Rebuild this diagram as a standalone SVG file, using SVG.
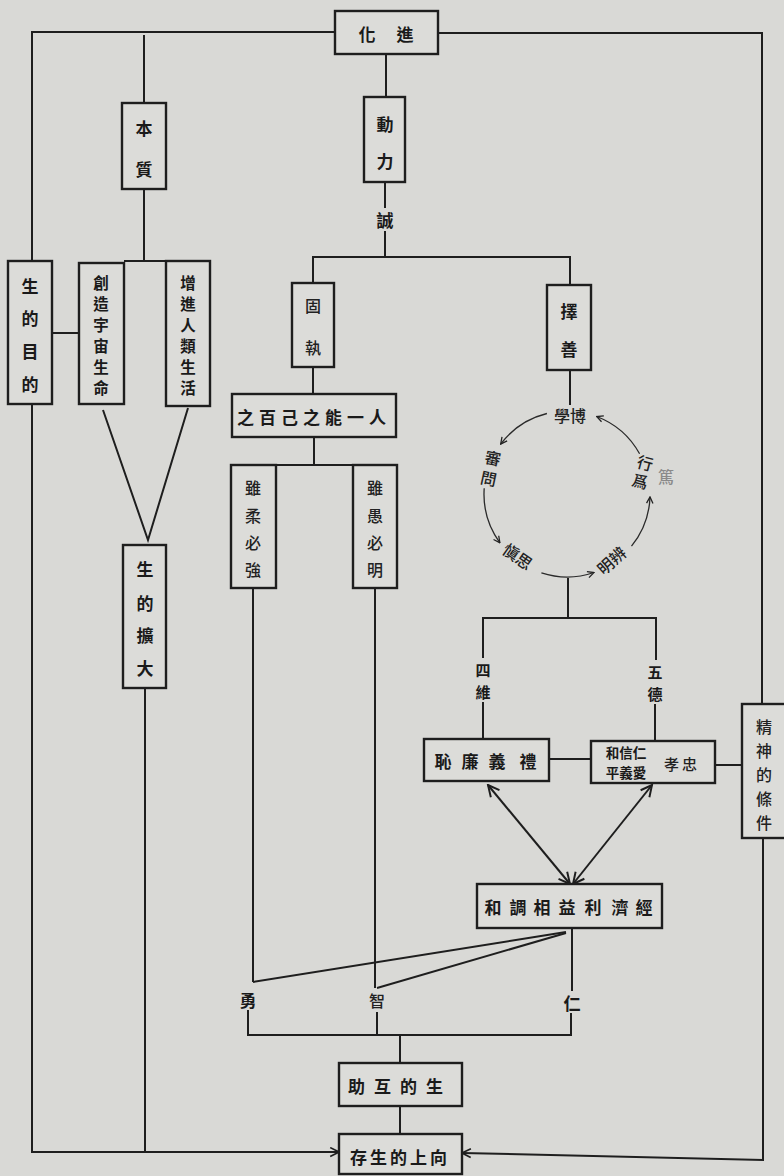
<svg xmlns="http://www.w3.org/2000/svg" width="784" height="1176" viewBox="0 0 784 1176">
<defs>
<style>
.bg{fill:#d9d9d6}
.box{fill:#dcdcd9;stroke:#1e1e1e;stroke-width:2.4}
.ln{fill:none;stroke:#1e1e1e;stroke-width:2}
.thin{fill:none;stroke:#2a2a2a;stroke-width:1.3}
.t{font-family:"Noto Sans CJK TC","Noto Sans CJK SC",sans-serif;font-weight:700;font-size:17px;fill:#1a1a1a;text-anchor:middle;dominant-baseline:central}
.tl{font-family:"Noto Sans CJK TC","Noto Sans CJK SC",sans-serif;font-weight:500;font-size:16px;fill:#222;text-anchor:middle;dominant-baseline:central}
.ts{font-size:15.5px}
.tx{font-size:15px}
.faint{fill:#8a8a8a}
</style>
<marker id="as" viewBox="0 0 10 10" refX="9" refY="5" markerWidth="8" markerHeight="8" markerUnits="userSpaceOnUse" orient="auto-start-reverse"><path d="M1,1 L9,5 L1,9" fill="none" stroke="#222" stroke-width="1.6"/></marker>
<marker id="ab" viewBox="0 0 10 10" refX="9" refY="5" markerWidth="14" markerHeight="14" markerUnits="userSpaceOnUse" orient="auto-start-reverse"><path d="M1,1 L9,5 L1,9" fill="none" stroke="#1e1e1e" stroke-width="1.4"/></marker>
<marker id="am" viewBox="0 0 10 10" refX="9" refY="5" markerWidth="11" markerHeight="11" markerUnits="userSpaceOnUse" orient="auto-start-reverse"><path d="M1,1 L9,5 L1,9" fill="none" stroke="#1e1e1e" stroke-width="1.5"/></marker>
</defs>
<rect class="bg" x="0" y="0" width="784" height="1176"/>

<g id="connectors">
<path class="ln" d="M335,32 H32 V261"/>
<path class="ln" d="M32,404 V1152 H339" marker-end="url(#am)"/>
<path class="ln" d="M438,33 H762 V704"/>
<path class="ln" d="M763,838 V1160 L462,1153" marker-end="url(#am)"/>
<path class="ln" d="M144,35 V103"/>
<path class="ln" d="M144,189 V261"/>
<path class="ln" d="M124,261 H166"/>
<path class="ln" d="M52,333 H79"/>
<path class="ln" d="M103,410 L148,540 L188,408"/>
<path class="ln" d="M145,688 V1152"/>
<path class="ln" d="M386,54 V97"/>
<path class="ln" d="M385,182 V208"/>
<path class="ln" d="M385,231 V257"/>
<path class="ln" d="M313,283 V257 H570 V285"/>
<path class="ln" d="M313,367 V394"/>
<path class="ln" d="M570,370 V405"/>
<path class="ln" d="M314,437 V465"/>
<path class="ln" d="M231,465 H397"/>
<path class="ln" d="M253,588 V982"/>
<path class="ln" d="M375,588 V988"/>
<path class="thin" d="M546.9,413.5 A83,83 0 0 0 500.7,444" marker-end="url(#as)"/>
<path class="thin" d="M484.2,488.2 A83,83 0 0 0 499.9,542.8" marker-end="url(#as)"/>
<path class="thin" d="M541.4,572.9 A83,83 0 0 0 594,572.5" marker-end="url(#as)"/>
<path class="thin" d="M631.5,546.2 A83,83 0 0 0 650,496.9" marker-end="url(#as)"/>
<path class="thin" d="M639.6,453.8 A83,83 0 0 0 596.7,416.5" marker-end="url(#as)"/>
<path class="ln" d="M568,578 V618"/>
<path class="ln" d="M483,739 V702"/>
<path class="ln" d="M483,658 V618 H656 V660"/>
<path class="ln" d="M655,704 V741"/>
<path class="ln" d="M549,759 H591"/>
<path class="ln" d="M715,765 H742"/>
<path class="ln" d="M488,785 L570,884" marker-start="url(#ab)" marker-end="url(#ab)"/>
<path class="ln" d="M652,785 L573,884" marker-start="url(#ab)" marker-end="url(#ab)"/>
<path class="ln" d="M566,932 L253,982"/>
<path class="ln" d="M566,933 L377,988"/>
<path class="ln" d="M572,928 V991"/>
<path class="ln" d="M248,1010 V1035 H571 V1013"/>
<path class="ln" d="M377,1012 V1035"/>
<path class="ln" d="M400,1035 V1063"/>
<path class="ln" d="M400,1106 V1134"/>
</g>

<g id="n-jinhua"><rect class="box" x="335" y="11" width="103" height="43"/><text class="t" x="367" y="33">化</text><text class="t" x="405" y="33">進</text></g>
<g id="n-benzhi"><rect class="box" x="122" y="103" width="44" height="86"/><text class="t" x="144" y="127">本</text><text class="t" x="144" y="168">質</text></g>
<g id="n-dongli"><rect class="box" x="364" y="97" width="41" height="85"/><text class="t" x="385" y="123">動</text><text class="t" x="385" y="160">力</text></g>
<g id="n-cheng"><text class="t" x="385" y="219">誠</text></g>
<g id="n-mudi"><rect class="box" x="8" y="261" width="44" height="143"/><text class="t" x="30" y="285">生</text><text class="t" x="30" y="317">的</text><text class="t" x="30" y="350">目</text><text class="t" x="30" y="383">的</text></g>
<g id="n-chuangzao"><rect class="box" x="79" y="263" width="45" height="141"/><text class="t ts" x="101" y="282">創</text><text class="t ts" x="101" y="303">造</text><text class="t ts" x="101" y="324">宇</text><text class="t ts" x="101" y="345">宙</text><text class="t ts" x="101" y="366">生</text><text class="t ts" x="101" y="387">命</text></g>
<g id="n-zengjin"><rect class="box" x="166" y="261" width="44" height="145"/><text class="t ts" x="188" y="282">增</text><text class="t ts" x="188" y="303">進</text><text class="t ts" x="188" y="324">人</text><text class="t ts" x="188" y="345">類</text><text class="t ts" x="188" y="366">生</text><text class="t ts" x="188" y="387">活</text></g>
<g id="n-kuoda"><rect class="box" x="123" y="545" width="43" height="143"/><text class="t" x="145" y="568">生</text><text class="t" x="145" y="602">的</text><text class="t" x="145" y="634">擴</text><text class="t" x="145" y="667">大</text></g>
<g id="n-guzhi"><rect class="box" x="292" y="283" width="42" height="84"/><text class="tl" x="313" y="305">固</text><text class="tl" x="313" y="347">執</text></g>
<g id="n-zeshan"><rect class="box" x="547" y="285" width="44" height="85"/><text class="t" x="569" y="310">擇</text><text class="t" x="569" y="348">善</text></g>
<g id="n-renyi"><rect class="box" x="232" y="394" width="164" height="43"/><text class="t" x="314" y="416" letter-spacing="5">之百己之能一人</text></g>
<g id="n-rou"><rect class="box" x="231" y="465" width="45" height="123"/><text class="tl" x="253" y="487">雖</text><text class="tl" x="253" y="515">柔</text><text class="tl" x="253" y="542">必</text><text class="tl" x="253" y="569">強</text></g>
<g id="n-yu"><rect class="box" x="353" y="465" width="44" height="123"/><text class="tl" x="375" y="487">雖</text><text class="tl" x="375" y="515">愚</text><text class="tl" x="375" y="542">必</text><text class="tl" x="375" y="569">明</text></g>
<g id="n-circle-labels">
<text class="tl" x="570" y="415">學博</text>
<g transform="translate(491,467) rotate(12)"><text class="tl" x="0" y="-10">審</text><text class="tl" x="0" y="11">問</text></g>
<text class="tl" transform="translate(518,556) rotate(35)" x="0" y="0">愼思</text>
<text class="tl" transform="translate(611,560) rotate(-42)" x="0" y="0">明辨</text>
<g transform="translate(643,471) rotate(15)"><text class="tl" x="0" y="-9">行</text><text class="tl" x="0" y="10">爲</text></g>
<text class="tl faint" x="666" y="476">篤</text>
</g>
<g id="n-siwei"><text class="t tx" x="483" y="669">四</text><text class="t tx" x="483" y="691">維</text></g>
<g id="n-wude"><text class="t tx" x="655" y="671">五</text><text class="t tx" x="655" y="693">德</text></g>
<g id="n-liyi"><rect class="box" x="424" y="739" width="125" height="42"/><text class="t" x="443" y="760">恥</text><text class="t" x="470" y="760">廉</text><text class="t" x="497" y="760">義</text><text class="t" x="528" y="760">禮</text></g>
<g id="n-zhongxiao"><rect class="box" x="591" y="741" width="124" height="42"/>
<text class="t" x="626" y="752" style="font-size:13.5px">和信仁</text>
<text class="t" x="626" y="772" style="font-size:13.5px">平義愛</text>
<text class="tl" x="682" y="763" style="font-size:15px" letter-spacing="3">孝忠</text></g>
<g id="n-jingshen"><rect class="box" x="742" y="704" width="46" height="134"/><text class="tl" x="764" y="726">精</text><text class="tl" x="764" y="750">神</text><text class="tl" x="764" y="774">的</text><text class="tl" x="764" y="798">條</text><text class="tl" x="764" y="822">件</text></g>
<g id="n-jingji"><rect class="box" x="477" y="884" width="185" height="44"/><text class="t" x="493" y="906">和</text><text class="t" x="518" y="906">調</text><text class="t" x="542" y="906">相</text><text class="t" x="567" y="906">益</text><text class="t" x="593" y="906">利</text><text class="t" x="620" y="906">濟</text><text class="t" x="644" y="906">經</text></g>
<g id="n-yong"><text class="t" x="248" y="999">勇</text></g>
<g id="n-zhi"><text class="tl" x="377" y="1000">智</text></g>
<g id="n-ren"><text class="t" x="572" y="1002">仁</text></g>
<g id="n-huzhu"><rect class="box" x="339" y="1063" width="123" height="43"/><text class="t" x="400" y="1085" letter-spacing="9">助互的生</text></g>
<g id="n-shengcun"><rect class="box" x="339" y="1134" width="123" height="40"/><text class="t" x="400" y="1156" letter-spacing="3">存生的上向</text></g>
</svg>
